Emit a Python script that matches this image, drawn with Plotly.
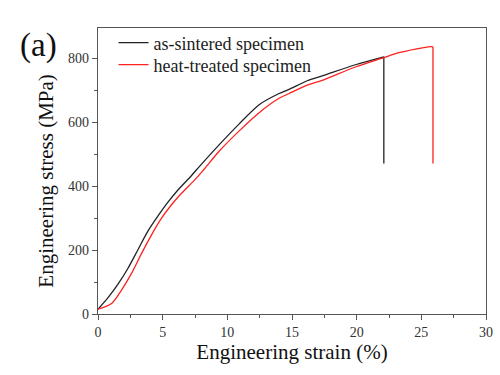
import plotly.graph_objects as go

black_strain = [0, 0.79, 1.56, 2.33, 3.1, 3.87, 4.64, 5.41, 6.18, 7.2, 7.85, 9.38, 10.92, 12.46, 14.0, 14.77, 16.18, 17.33, 19.9, 22.1, 22.1]
black_stress = [15, 52, 94, 144, 202, 260, 307, 350, 388, 432, 462, 530, 595, 655, 690, 703, 730, 745, 780, 805, 471]

red_strain = [0, 1.05, 1.82, 2.59, 3.36, 4.13, 4.9, 5.67, 6.44, 7.46, 8.1, 9.38, 10.92, 12.46, 14.0, 14.77, 16.18, 17.33, 19.9, 22.08, 23.2, 25.7, 25.9, 25.9]
red_stress = [15, 33, 75, 127, 189, 247, 299, 341, 377, 419, 448, 510, 573, 630, 675, 690, 716, 731, 773, 802, 817, 837, 836, 471]

font_family = "Liberation Serif, Times New Roman, serif"

fig = go.Figure()
series = [
    (black_strain, black_stress, "as-sintered specimen", "#222222", "legend"),
    (red_strain, red_stress, "heat-treated specimen", "#ff2020", "legend2"),
]
for xs, ys, name, color, leg in series:
    # smooth curve up to fracture
    fig.add_trace(go.Scatter(x=xs[:-1], y=ys[:-1], mode="lines", name=name, legend=leg,
                             legendgroup=name,
                             line=dict(color=color, width=1.3, shape="spline", smoothing=0.8)))
    # vertical fracture drop
    fig.add_trace(go.Scatter(x=xs[-2:], y=ys[-2:], mode="lines", name=name, legend=leg,
                             legendgroup=name, showlegend=False,
                             line=dict(color=color, width=1.3)))

axis_common = dict(showline=True, linecolor="#555555", linewidth=1.2, mirror=True,
                   ticks="outside", ticklen=5, tickcolor="#555555", showgrid=False,
                   zeroline=False, automargin=False,
                   tickfont=dict(family=font_family, size=14, color="#333333"))

fig.update_xaxes(range=[0, 30], dtick=5, tick0=0,
                 minor=dict(dtick=2.5, ticks="outside", ticklen=3, tickcolor="#555555"),
                 title=dict(text="Engineering strain (%)", font=dict(family=font_family, size=21, color="#111111"), standoff=5),
                 **axis_common)
fig.update_yaxes(range=[0, 895], dtick=200, tick0=0,
                 minor=dict(dtick=100, ticks="outside", ticklen=3, tickcolor="#555555"),
                 **axis_common)

fig.add_annotation(text="Engineering stress (MPa)", xref="x domain", yref="y domain",
                   x=-0.135, y=0.465, showarrow=False, textangle=-90,
                   xanchor="center", yanchor="middle",
                   font=dict(family=font_family, size=21, color="#111111"))
fig.add_annotation(text="(a)", xref="x domain", yref="y domain", x=-0.205, y=0.94, showarrow=False,
                   xanchor="left", yanchor="middle", font=dict(family=font_family, size=33, color="#111111"))

legend_style = dict(xanchor="left", yanchor="middle", bgcolor="rgba(0,0,0,0)",
                    font=dict(family=font_family, size=18, color="#222222"), itemwidth=30)
fig.update_layout(width=500, height=375, margin=dict(l=98, r=14, t=28, b=61),
                  plot_bgcolor="white", paper_bgcolor="white",
                  legend=dict(x=0.04, y=(314 - 43) / 286, **legend_style),
                  legend2=dict(x=0.04, y=(314 - 65) / 286, **legend_style))

fig.write_html("out.html", config={"displayModeBar": False},
               post_script="document.body.style.margin='0';document.body.style.overflow='hidden';")
